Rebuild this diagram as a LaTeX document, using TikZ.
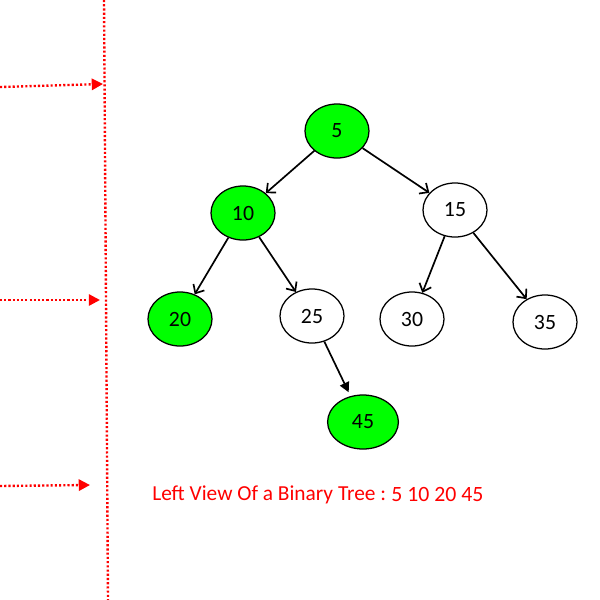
\documentclass[tikz,border=0pt]{standalone}
\usepackage{fontspec}
\setmainfont{Carlito}
\usetikzlibrary{shapes, arrows.meta}

\begin{document}
\begin{tikzpicture}[x=0.025cm, y=-0.025cm,
  tnode/.style={ellipse, draw=black, line width=0.9pt, minimum width=1.6cm, minimum height=1.35cm, inner sep=0pt, font=\fontsize{15.5}{18}\selectfont},
  seen/.style={tnode, fill=green},
  edge/.style={line width=1.2pt, -{Straight Barb[length=5pt, width=9pt]}},
  level/.style={red, line width=1.7pt, dash pattern=on 1.5pt off 1.5pt}]
\useasboundingbox (0,0) rectangle (600,600);

\node[seen] (5) at (337,131) {5};
\node[seen] (10) at (243,213) {10};
\node[tnode] (15) at (455,210) {15};
\node[seen] (20) at (180,319) {20};
\node[tnode] (25) at (312,316) {25};
\node[tnode] (30) at (412,319) {30};
\node[tnode] (35) at (545,322) {35};
\node[seen, minimum width=1.77cm] (45) at (363,422) {45};

\draw[edge] (5) -- (10);
\draw[edge] (5) -- (15);
\draw[edge] (10) -- (20);
\draw[edge] (10) -- (25);
\draw[edge] (15) -- (30);
\draw[edge] (15) -- (35);
\draw[line width=1.2pt, -{Triangle[length=7pt, width=7pt]}, shorten >=3pt] (25) -- (45);

% levels
\coordinate (top) at (104,0);
\coordinate (bottom) at (108,600);
\draw[level] (top) -- (bottom);
\coordinate (l1) at (0,87);
\coordinate (m1) at (103,84);
\coordinate (l2) at (0,300);
\coordinate (m2) at (100,300);
\coordinate (l3) at (0,486);
\coordinate (m3) at (90,485);
\draw[level, -{Triangle[length=8pt, width=8pt]}] (l1) -- (m1);
\draw[level, -{Triangle[length=8pt, width=8pt]}] (l2) -- (m2);
\draw[level, -{Triangle[length=8pt, width=8pt]}] (l3) -- (m3);

\node[anchor=base west, inner sep=0pt, text=red, font=\fontsize{15.2}{18}\selectfont] (view) at (152,500) {Left View Of a Binary Tree :};
\node[anchor=base west, inner sep=0pt, text=red, font=\fontsize{15.5}{18}\selectfont] (values) at (391,501) {5 10 20 45};
\end{tikzpicture}
\end{document}
